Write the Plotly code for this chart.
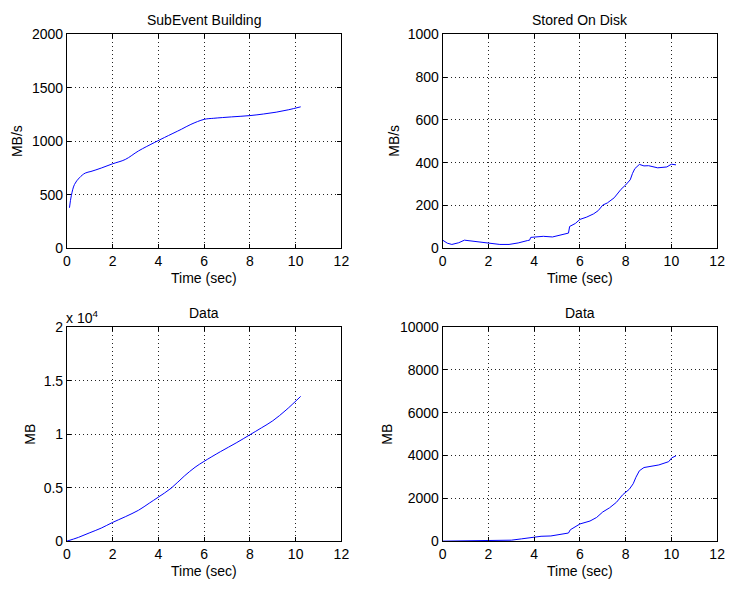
import plotly.graph_objects as go
from plotly.subplots import make_subplots

# Sub-event building throughput (MB/s)
t_build = [0.11, 0.19, 0.33, 0.54, 0.8, 1.05, 1.5, 2.0, 2.55, 3.13, 3.84, 4.27, 5.0, 5.42, 6.0, 6.42, 7.2, 8.0, 8.6, 9.15, 9.7, 10.22]
rate_build = [379, 491, 597, 658, 703, 718, 750, 790, 830, 910, 990, 1036, 1112, 1158, 1205, 1215, 1228, 1240, 1255, 1272, 1295, 1322]

# Rate stored on disk (MB/s)
t_disk = [0.0, 0.07, 0.2, 0.4, 0.7, 0.95, 1.3, 1.8, 2.5, 2.9, 3.3, 3.7, 3.8, 3.85, 4.4, 4.8, 5.1, 5.3, 5.5, 5.55, 5.8, 6.0, 6.3, 6.6, 6.8, 7.0, 7.2, 7.5, 7.8, 8.0, 8.2, 8.3, 8.4, 8.6, 8.8, 9.0, 9.4, 9.8, 10.0, 10.2]
rate_disk = [38, 32, 24, 18, 26, 38, 33, 27, 18, 18, 25, 36, 38, 51, 56, 53, 62, 67, 71, 102, 116, 135, 146, 161, 176, 202, 212, 236, 276, 296, 320, 350, 372, 392, 385, 386, 376, 380, 393, 390]

# Cumulative data built (MB)
t_data = [0.0, 0.5, 0.97, 1.5, 1.98, 2.55, 3.13, 3.6, 3.99, 4.56, 5.13, 5.6, 5.99, 6.71, 7.4, 8.0, 8.5, 9.0, 9.58, 10.22]
data_built = [0, 350, 760, 1220, 1733, 2280, 2888, 3550, 4103, 4954, 6079, 6900, 7447, 8359, 9180, 9939, 10580, 11246, 12249, 13526]

# Cumulative data stored on disk (MB)
t_stored = [0.0, 1.0, 2.0, 3.0, 3.44, 3.8, 3.94, 4.3, 4.73, 5.16, 5.5, 5.58, 6.0, 6.44, 6.73, 7.0, 7.3, 7.6, 7.87, 8.16, 8.33, 8.45, 8.6, 8.8, 9.0, 9.45, 9.88, 10.02, 10.2]
data_stored = [0, 15, 25, 45, 106, 150, 197, 227, 242, 303, 379, 530, 803, 939, 1106, 1364, 1560, 1818, 2167, 2424, 2682, 2985, 3288, 3439, 3485, 3560, 3712, 3894, 3985]

titles = ["SubEvent Building", "Stored On Disk", "Data", "Data"]
y_labels = ["MB/s", "MB/s", "MB", "MB"]
x_label = "Time (sec)"
x_ticks = [0, 2, 4, 6, 8, 10, 12]

FONT = "Liberation Sans, Arial, Helvetica, sans-serif"
LINE = dict(color="#0000ff", width=1)
SIZE = 14

fig = make_subplots(rows=2, cols=2)
fig.add_trace(go.Scatter(x=t_build, y=rate_build, mode="lines", line=LINE, line_shape="spline"), row=1, col=1)
fig.add_trace(go.Scatter(x=t_disk, y=rate_disk, mode="lines", line=LINE), row=1, col=2)
fig.add_trace(go.Scatter(x=t_data, y=data_built, mode="lines", line=LINE, line_shape="spline"), row=2, col=1)
fig.add_trace(go.Scatter(x=t_stored, y=data_stored, mode="lines", line=LINE), row=2, col=2)

W, H = 733, 590
left_px = [64, 446]
right_px = [343, 725]
top_px = [27, 328]
bottom_px = [247, 548]
xdom = [[left_px[c] / W, right_px[c] / W] for c in range(2)]
ydom = [[1 - bottom_px[r] / H, 1 - top_px[r] / H] for r in range(2)]

# horizontal centre of each y-axis label, in pixels from the left edge
ylabel_x = [14, 397, 27, 390]

axis_common = dict(
    showline=True, mirror="ticks", linecolor="black", linewidth=1,
    ticks="inside", ticklen=4, tickcolor="black",
    showgrid=True, gridcolor="#222222", gridwidth=1, griddash="1px,3px",
    zeroline=False, tickfont=dict(family=FONT, size=SIZE, color="black"),
)

y_specs = [
    dict(range=[0, 2000], tickvals=[0, 500, 1000, 1500, 2000]),
    dict(range=[0, 1000], tickvals=[0, 200, 400, 600, 800, 1000]),
    dict(range=[0, 20000], tickvals=[0, 5000, 10000, 15000, 20000],
         ticktext=["0", "0.5", "1", "1.5", "2"]),
    dict(range=[0, 10000], tickvals=[0, 2000, 4000, 6000, 8000, 10000],
         ticktext=["0", "2000", "4000", "6000", "8000", "10000"]),
]

def text_note(text, x_px, y_px, angle=0, xanchor="center"):
    fig.add_annotation(
        text=text, xref="paper", yref="paper",
        x=x_px / W, y=1 - y_px / H, xanchor=xanchor, yanchor="middle",
        textangle=angle, showarrow=False,
        font=dict(family=FONT, size=SIZE, color="black"),
    )

for i in range(4):
    r, c = divmod(i, 2)
    xa = "xaxis" if i == 0 else f"xaxis{i + 1}"
    ya = "yaxis" if i == 0 else f"yaxis{i + 1}"
    spec = y_specs[i]
    fig.layout[xa].update(domain=xdom[c], range=[0, 12], tickvals=x_ticks, **axis_common)
    yk = dict(domain=ydom[r], range=spec["range"], tickvals=spec["tickvals"], **axis_common)
    if "ticktext" in spec:
        yk["ticktext"] = spec["ticktext"]
    fig.layout[ya].update(**yk)

    mid_x = (left_px[c] + right_px[c]) / 2
    mid_y = (top_px[r] + bottom_px[r]) / 2
    text_note(titles[i], mid_x, top_px[r] - 15)
    text_note(x_label, mid_x, bottom_px[r] + 31)
    text_note(y_labels[i], ylabel_x[i], mid_y, angle=-90)

# exponent label for the scaled axis
text_note("x 10<sup>4</sup>", 61, top_px[1] - 10, xanchor="left")

fig.update_layout(
    width=W, height=H, margin=dict(l=0, r=0, t=0, b=0),
    paper_bgcolor="white", plot_bgcolor="white", showlegend=False,
)

fig.write_html("out.html")
